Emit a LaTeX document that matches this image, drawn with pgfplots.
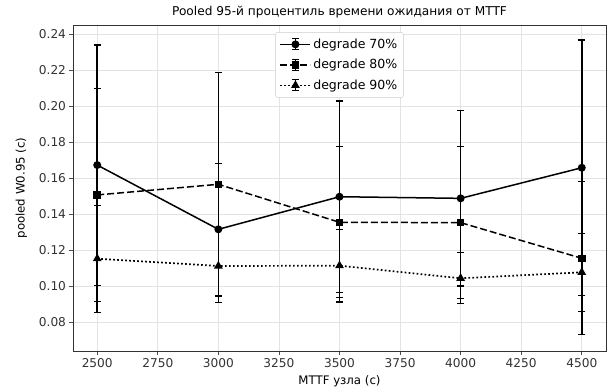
\documentclass[border=0pt]{standalone}
\usepackage{fontspec}
\setmainfont{DejaVu Sans}
\usepackage{pgfplots}
\pgfplotsset{compat=1.18}
\begin{document}
\begin{tikzpicture}
\begin{axis}[
  name=ax,
  scale only axis,
  width=533bp, height=326bp,
  xmin=2400, xmax=4600,
  ymin=0.0639, ymax=0.245,
  xtick={2500,2750,...,4500},
  ytick={0.08,0.10,...,0.241},
  /pgf/number format/assume math mode=true,
  xticklabel style={/pgf/number format/1000 sep={}},
  yticklabel style={/pgf/number format/fixed,/pgf/number format/precision=2,/pgf/number format/fixed zerofill},
  scaled y ticks=false,
  tick label style={font=\fontsize{12.2}{14}\selectfont, text=black!80},
  tick style={black!70, line width=0.6pt},
  major tick length=3.5bp,
  tick align=outside,
  xtick pos=bottom, ytick pos=left,
  axis line style={black!80, line width=0.6pt},
  grid=major,
  grid style={gray!22, line width=0.6pt},
  title={Pooled 95-й процентиль времени ожидания от MTTF},
  title style={font=\fontsize{12.2}{14}\selectfont, yshift=-3bp},
  xlabel={MTTF узла (с)},
  ylabel={pooled W0.95 (с)},
  label style={font=\fontsize{11.8}{13}\selectfont},
  xlabel style={yshift=-2bp},
  ylabel style={yshift=5bp},
  legend style={at={(0.5,0.978)}, anchor=north, font=\fontsize{12.6}{14}\selectfont,
    draw=gray!40, rounded corners=2bp, fill=white, row sep=5.5bp, inner xsep=4bp, inner ysep=4.5bp},
  legend cell align=left,
  legend image code/.code={
    \draw[#1, mark=none] (0bp,0bp) -- (30bp,0bp);
    \draw[solid, line width=1.3bp] (15bp,-5.5bp) -- (15bp,5.5bp);
    \draw[solid, line width=1.1bp] (11.5bp,-5.5bp) -- (18.5bp,-5.5bp) (11.5bp,5.5bp) -- (18.5bp,5.5bp);
    \draw[#1, only marks] plot coordinates {(15bp,0bp)};
  },
  error bars/error bar style={line width=1.5bp, solid, black},
  error bars/error mark options={rotate=90, mark size=3.5bp, line width=1.2bp, solid, black},
]
\addplot[black, line width=1.5bp, solid, mark=*, mark size=3.2bp, mark options={solid, fill=black},
  error bars/.cd, y dir=both, y explicit]
  coordinates {
  (2500,0.1672) +- (0,0.0667)
  (3000,0.1315) +- (0,0.0367)
  (3500,0.1496) +- (0,0.0532)
  (4000,0.1487) +- (0,0.0487)
  (4500,0.1657) +- (0,0.0710)
  };
\addlegendentry{degrade 70\%}
\addplot[black, line width=1.5bp, dash pattern=on 7bp off 3bp, mark=square*, mark size=3bp, mark options={solid, fill=black},
  error bars/.cd, y dir=both, y explicit]
  coordinates {
  (2500,0.1506) +- (0,0.0592)
  (3000,0.1565) +- (0,0.0622)
  (3500,0.1354) +- (0,0.0420)
  (4000,0.1352) +- (0,0.0422)
  (4500,0.1154) +- (0,0.0425)
  };
\addlegendentry{degrade 80\%}
\addplot[black, line width=1.7bp, dash pattern=on 1.7bp off 2.3bp, mark=triangle*, mark size=3.4bp, mark options={solid, fill=black},
  error bars/.cd, y dir=both, y explicit]
  coordinates {
  (2500,0.1152) +- (0,0.0297)
  (3000,0.1111) +- (0,0.0204)
  (3500,0.1113) +- (0,0.0202)
  (4000,0.1043) +- (0,0.0142)
  (4500,0.1076) +- (0,0.0216)
  };
\addlegendentry{degrade 90\%}
\end{axis}
\pgfresetboundingbox
\useasboundingbox ([xshift=-73bp,yshift=-40bp]ax.south west) rectangle ([xshift=3bp,yshift=25bp]ax.north east);
\end{tikzpicture}
\end{document}
